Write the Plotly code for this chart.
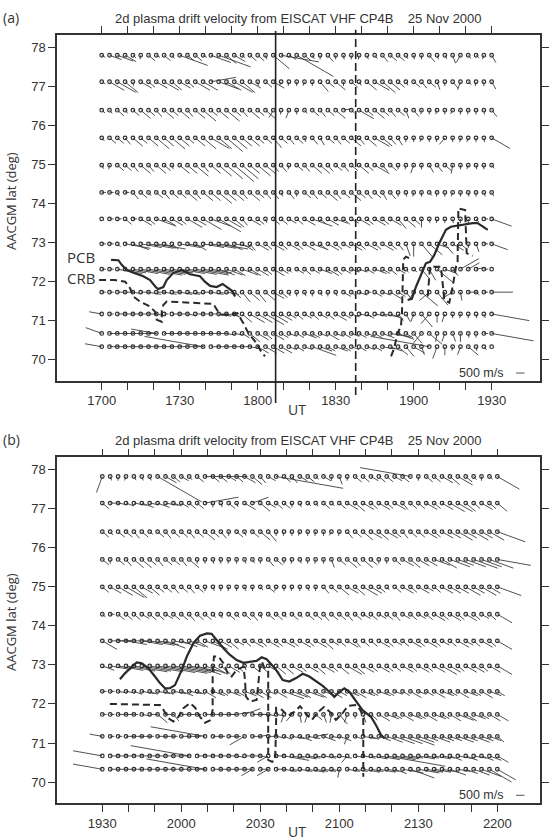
import math
import plotly.graph_objects as go

W, H = 552, 840

# ---------------- data ----------------
lats = [77.81, 77.13, 76.40, 75.69, 74.99, 74.29, 73.61, 72.97, 72.32, 71.73, 71.17, 70.67, 70.33]
times_a = list(range(1020, 1171, 3))   # minutes UT, 17:00 - 19:30
times_b = list(range(1170, 1321, 3))   # minutes UT, 19:30 - 22:00

# vector tokens "bearing/10 . speed/250 m/s" per dot, one string per latitude row
vec_a = [
 "12.1 11.3 11.4 12.3 13.1 19.1 13.2 12.1 13.2 14.1 11.7 13.2 13.2 12.1 11.5 11.8 13.3 12.3 13.1 13.2 13.2 16.1 13.5 10.9 12.2 12.10 13.2 15.1 18.1 14.2 18.1 17.1 18.1 19.1 16.1 14.1 14.2 13.2 13.2 15.1 17.1 18.1 14.2 16.1 15.1 16.2 21.2 14.1 13.1 20.1 15.2",
 "12.1 12.4 12.5 13.4 17.1 12.3 13.2 12.3 12.4 13.3 12.3 13.2 12.4 12.4 8.6 11.5 12.4 12.5 13.4 12.3 17.1 13.2 12.3 20.1 19.1 18.1 20.1 18.1 14.3 13.2 13.3 18.1 13.2 15.1 13.3 12.4 13.4 13.3 13.2 15.1 13.2 14.2 13.2 16.2 18.1 14.2 20.2 13.1 19.1 18.1 15.2",
 "13.1 14.1 13.2 14.1 13.2 13.3 13.2 14.2 13.3 13.2 13.3 14.2 13.3 13.4 13.2 13.3 13.4 13.2 14.2 13.3 13.2 13.3 21.2 19.1 20.2 18.1 14.1 13.2 14.2 13.2 13.3 8.2 13.1 12.4 13.2 13.3 13.2 14.2 13.2 16.2 14.2 19.1 18.1 20.1 18.1 21.1 18.1 19.1 18.1 17.1 14.2",
 "14.1 13.2 13.2 14.2 13.3 13.2 13.3 13.4 13.3 13.4 13.3 13.2 13.3 13.4 12.5 13.4 13.5 13.4 13.3 13.3 13.2 13.2 14.3 13.2 14.2 13.2 16.1 14.2 15.2 13.2 14.2 13.2 13.3 14.2 13.3 12.4 13.3 14.2 15.2 18.1 18.1 20.1 18.1 19.1 22.2 18.1 19.1 20.1 18.1 17.1 12.5",
 "15.1 19.1 13.2 13.2 14.2 13.3 14.2 13.3 13.2 16.1 13.3 13.3 13.4 14.2 13.3 13.4 13.5 13.6 13.5 13.3 13.4 13.3 14.2 14.2 19.1 13.2 14.2 13.3 13.3 14.2 13.2 14.2 13.2 13.3 13.2 12.4 14.2 13.2 18.1 19.1 20.2 18.1 15.2 14.2 13.2 19.2 18.1 20.1 17.1 18.1 14.1",
 "9.1 9.1 15.1 9.1 14.2 13.2 14.1 13.2 14.2 13.2 13.2 13.3 14.2 13.3 13.3 13.4 13.3 13.3 14.2 13.3 13.2 14.2 14.2 16.1 14.2 18.1 13.2 14.2 13.2 13.3 14.2 13.2 13.3 13.2 14.2 13.2 15.2 14.2 18.1 17.1 19.1 18.1 14.1 19.1 18.1 20.1 18.1 17.1 18.1 16.1 15.1",
 "9.0 9.1 9.1 13.2 9.1 12.3 13.2 11.5 12.3 12.3 13.2 12.4 12.3 12.5 11.5 12.6 12.4 13.3 14.2 12.3 13.2 16.1 13.2 13.2 12.2 13.2 12.3 11.5 13.2 12.3 11.3 13.2 12.2 12.3 13.2 12.3 13.2 12.3 14.3 13.3 13.2 18.2 17.1 19.1 18.1 17.1 18.1 18.1 14.1 9.1 11.5",
 "9.1 9.1 13.1 10.6 11.4 10.5 10.6 10.7 11.3 13.2 10.5 10.4 12.3 10.5 10.6 10.7 11.4 10.4 12.3 14.2 12.3 13.2 12.3 13.2 12.3 13.2 12.3 11.4 13.2 12.3 13.2 12.2 12.3 13.2 12.3 13.2 12.3 13.2 14.2 16.3 18.3 14.4 13.4 11.3 14.3 12.3 13.2 18.1 16.2 9.1 11.4",
 "9.1 9.1 10.6 10.5 10.6 10.7 10.8 10.7 10.6 10.5 10.6 10.7 10.8 10.6 10.5 11.4 11.4 12.3 11.4 12.3 12.3 13.2 12.3 12.2 14.1 12.2 13.2 12.2 11.3 12.3 13.2 12.2 11.2 11.2 12.2 11.3 12.2 13.2 12.2 14.1 13.1 14.3 15.3 13.5 11.3 14.2 6.5 6.3 8.2 9.1 9.0",
 "9.1 9.1 9.2 9.2 10.2 9.2 10.3 9.2 10.3 9.2 10.3 10.3 10.2 9.2 10.3 10.2 10.3 13.2 14.3 13.3 14.3 13.3 12.3 13.2 16.1 18.1 16.1 18.1 15.1 18.1 16.1 12.2 13.1 11.2 9.1 12.2 11.2 12.3 12.2 14.2 21.2 13.5 23.3 14.4 18.1 24.3 17.2 9.2 13.1 9.1 9.5",
 "28.3 9.1 9.2 9.2 9.2 9.2 9.2 10.2 9.1 9.2 9.2 10.2 9.2 9.2 9.2 10.3 10.3 12.2 13.3 12.4 12.4 12.5 12.4 12.3 12.2 13.2 12.2 13.2 12.2 13.2 12.3 12.2 11.2 10.3 12.2 10.3 10.4 11.3 14.2 15.2 20.2 14.4 22.3 18.2 20.2 18.1 19.1 18.1 17.1 16.1 10.9",
 "29.4 9.2 9.2 9.2 9.2 9.2 9.2 28.6 9.2 9.2 9.2 9.2 9.2 9.2 9.2 9.2 10.2 10.2 12.2 13.3 12.3 13.2 12.3 12.2 11.2 12.2 11.3 12.2 11.2 12.3 11.2 12.2 11.2 12.2 11.2 12.2 11.3 10.5 11.4 12.2 14.3 22.3 13.4 19.2 20.2 16.2 18.2 17.1 18.1 9.1 10.10",
 "28.4 9.2 9.2 9.2 9.2 9.2 9.2 9.2 9.2 9.2 9.2 9.2 9.2 28.14 9.2 9.2 9.2 9.2 9.2 10.2 12.3 12.3 12.3 12.3 11.2 12.2 11.2 11.6 11.3 12.2 11.3 12.2 11.2 12.2 11.2 12.2 10.3 11.3 13.3 14.3 12.3 16.2 28.14 20.3 18.2 19.1 20.2 13.3 17.1 14.1 9.0",
]
vec_b = [
 "20.4 16.1 18.1 20.1 15.1 16.1 16.1 12.12 12.3 13.2 12.2 14.1 13.2 9.10 13.2 13.2 12.2 13.2 12.3 13.3 14.2 12.2 10.16 13.2 14.2 12.2 13.2 13.1 12.2 18.1 16.2 18.1 13.2 13.2 12.2 13.2 13.2 12.2 13.2 28.12 18.1 13.2 13.2 12.3 13.3 12.4 13.2 14.1 18.1 13.1 12.6",
 "13.2 9.2 10.2 11.2 10.3 11.3 10.2 11.3 10.3 11.2 12.2 13.2 13.2 8.8 18.1 16.1 13.2 16.1 12.3 7.4 13.3 12.2 13.2 13.2 18.1 16.1 13.1 14.1 13.2 13.1 13.2 12.3 13.3 12.3 13.2 12.3 13.2 12.3 14.2 13.2 13.2 12.3 13.2 12.3 12.4 12.4 13.3 13.2 12.3 13.2 13.3",
 "13.2 14.1 13.2 13.2 14.2 13.2 13.1 13.2 14.2 13.2 13.2 14.2 13.2 13.3 13.2 14.2 18.1 13.2 16.1 13.2 13.3 14.3 18.1 19.1 18.1 20.1 18.1 19.1 18.1 21.1 19.1 14.2 13.2 13.3 12.3 13.3 12.3 13.2 14.2 13.2 13.2 12.3 13.2 12.3 12.3 12.4 12.3 12.4 12.3 12.4 11.7",
 "13.2 18.1 13.2 14.2 13.3 13.3 13.2 14.2 13.2 13.2 14.2 13.3 18.1 18.1 17.1 18.1 19.1 18.1 16.1 15.1 18.1 14.2 13.2 18.1 19.1 16.1 18.1 19.1 18.1 16.2 13.2 13.3 14.2 13.3 13.2 18.1 18.1 13.2 12.3 13.3 12.3 12.3 11.4 12.4 11.5 11.4 11.5 11.6 11.5 11.6 10.8",
 "13.2 12.3 12.4 12.5 13.4 12.3 13.3 13.2 13.2 14.2 13.2 14.2 13.2 18.1 16.1 18.1 19.1 18.1 16.1 18.1 14.1 13.2 20.1 18.1 19.1 18.1 16.1 18.1 14.2 13.2 13.3 12.3 13.3 12.4 12.3 13.2 14.1 13.2 12.3 13.2 12.3 12.2 13.2 12.3 12.3 12.3 12.4 12.3 12.4 12.3 11.6",
 "13.1 9.1 13.2 13.2 13.2 12.2 13.2 13.2 12.2 13.2 13.2 14.2 13.2 13.2 14.1 16.1 13.2 14.1 13.2 14.2 16.1 13.2 13.2 14.1 13.2 14.1 13.2 13.2 14.2 13.2 13.2 14.2 13.2 12.2 13.2 12.2 13.2 14.2 12.2 13.2 12.2 13.2 12.3 13.2 12.3 13.2 12.3 13.2 12.2 13.2 12.4",
 "12.4 9.5 9.4 10.5 9.4 10.5 10.6 10.5 11.5 10.4 11.4 11.4 12.3 11.5 12.4 12.3 13.3 12.2 13.2 12.3 13.2 12.3 13.2 12.3 13.2 12.3 13.2 12.3 13.3 12.2 13.2 12.3 14.2 13.2 13.2 12.3 13.2 12.2 13.2 12.3 13.2 12.3 13.2 12.2 13.2 12.3 12.2 13.2 12.3 13.2 12.4",
 "11.3 10.5 10.6 10.7 10.8 10.7 10.8 10.9 10.10 10.9 10.8 10.7 11.6 11.5 12.4 13.3 12.3 13.2 16.1 13.2 13.2 12.3 13.3 13.3 12.3 13.2 12.3 13.3 12.3 13.2 13.3 12.4 13.3 12.3 13.2 12.3 13.2 13.2 12.3 13.2 12.3 13.2 12.3 12.4 12.3 13.2 12.3 12.3 13.2 12.3 12.4",
 "9.1 9.1 10.2 10.2 11.2 10.3 11.2 10.3 11.2 10.3 11.3 10.3 11.2 12.3 11.3 12.2 11.3 12.2 11.3 12.3 12.3 11.2 12.3 11.5 11.4 12.3 11.4 12.3 11.3 12.3 12.2 11.3 12.3 11.3 12.2 11.3 12.2 11.2 12.2 12.3 11.2 12.2 12.3 11.3 12.2 12.3 11.3 12.2 12.3 11.3 12.2",
 "9.1 9.1 9.2 9.2 9.1 10.2 9.2 13.3 9.2 14.2 9.2 9.2 9.1 9.2 9.2 9.3 9.2 8.3 7.4 9.3 9.2 10.2 10.2 20.2 22.2 17.2 20.2 13.2 16.2 19.2 14.3 20.2 18.1 16.2 13.2 12.3 11.3 12.2 12.3 11.3 12.2 12.3 11.3 12.2 12.3 11.4 12.3 11.3 12.2 12.3 12.3",
 "28.3 9.1 9.1 9.2 9.2 9.2 9.1 9.2 9.2 9.1 9.2 9.2 9.1 28.13 9.2 9.1 9.2 9.1 24.4 9.2 8.2 9.2 10.2 11.2 10.3 11.3 10.3 8.3 11.3 10.2 11.3 20.2 11.2 10.3 11.2 11.3 11.4 11.5 11.5 11.6 11.4 11.3 11.4 11.3 11.3 11.4 11.3 11.4 11.3 11.3 13.2",
 "28.7 9.2 9.2 9.2 9.2 9.2 9.2 9.2 9.2 9.2 9.2 28.14 9.2 9.2 9.2 9.2 9.2 10.2 9.2 9.2 10.2 24.3 9.2 10.6 10.3 10.4 10.3 10.2 10.3 10.2 10.3 22.2 10.2 10.3 10.4 10.5 10.14 10.5 10.4 10.3 10.4 10.3 10.4 10.3 11.3 10.4 11.3 10.3 11.3 11.3 12.3",
 "28.7 9.2 9.2 9.2 9.2 9.2 9.2 9.2 9.2 9.2 9.2 9.2 9.2 28.14 9.2 9.2 9.2 9.2 9.2 24.3 9.2 24.3 9.2 10.3 10.2 10.3 10.4 10.3 10.3 10.2 19.2 10.3 10.3 10.4 10.3 10.4 10.3 11.3 10.5 11.6 10.5 10.4 10.4 10.4 11.4 10.3 11.3 11.4 11.5 12.6 12.5",
]

# boundaries (minutes UT, AACGM lat)
pcb_a_t = [1023.6, 1026.4, 1027.7, 1029.6, 1032.2, 1036.0, 1038.6, 1040.9, 1041.8, 1043.7, 1045.0, 1047.5,
           1050.8, 1054.0, 1057.8, 1059.7, 1061.7, 1064.2, 1066.5, 1068.1, 1070.0, 1071.3, None,
           1137.7, 1139.3, 1140.9, 1143.5, 1144.7, 1146.3, 1147.9, 1149.8, 1151.2, 1152.4, 1154.3,
           1158.8, 1162.7, 1164.6, 1166.5, 1168.5]
pcb_a_lat = [72.56, 72.55, 72.43, 72.30, 72.23, 72.14, 72.04, 71.85, 71.81, 71.86, 72.04, 72.22,
             72.30, 72.19, 72.14, 72.00, 71.89, 71.86, 71.94, 71.86, 71.77, 71.62, None,
             71.53, 71.56, 71.87, 72.26, 72.47, 72.51, 72.68, 72.98, 73.15, 73.33, 73.41,
             73.46, 73.50, 73.50, 73.41, 73.33]
crb_a_t = [1019.0, 1025.1, 1029.0, 1030.9, 1032.2, 1034.7, 1038.6, 1040.5, 1041.2, 1043.1, 1043.1, 1043.7,
           1045.0, 1062.9, 1064.8, 1066.2, 1070.6, 1072.2, 1074.5, 1076.4, 1079.6, 1080.9, 1082.8, None,
           1131.3, 1132.5, 1133.8, 1135.1, 1135.5, 1135.8, 1136.0, 1137.0, 1138.3, None,
           1145.4, 1146.3, 1150.5, 1151.8, 1153.7, 1155.0, 1156.3, 1156.9, 1157.2, 1159.8, 1160.4, 1162.7]
crb_a_lat = [72.04, 72.04, 72.00, 71.83, 71.62, 71.49, 71.36, 71.23, 71.02, 70.97, 71.27, 71.40,
             71.49, 71.43, 71.23, 71.15, 71.17, 71.19, 70.93, 70.68, 70.42, 70.25, 70.08, None,
             70.08, 70.29, 70.68, 70.85, 71.19, 71.87, 72.56, 72.64, 72.60, None,
             71.62, 72.38, 72.38, 71.53, 71.46, 71.87, 72.38, 72.51, 73.88, 73.84, 72.73, 72.66]
pcb_b_t = [1176.7, 1178.6, 1181.2, 1183.1, 1185.0, 1187.5, 1190.0, 1191.9, 1193.8, 1195.7, 1197.6, 1200.2,
           1202.1, 1204.6, 1207.1, 1209.7, 1211.5, 1213.4, 1216.0, 1218.5, 1221.0, 1223.6, 1226.1, 1228.6,
           1230.5, 1232.4, 1234.3, 1236.0, 1238.5, 1241.0, 1243.6, 1246.1, 1248.6, 1251.2, 1253.7, 1256.2,
           1258.1, 1260.0, 1261.9, 1263.8, 1266.3, 1268.8, 1272.0, 1273.9, 1275.8, 1277.1]
pcb_b_lat = [72.63, 72.78, 72.95, 73.06, 73.04, 72.91, 72.70, 72.53, 72.40, 72.40, 72.48, 72.87,
             73.21, 73.55, 73.74, 73.80, 73.79, 73.63, 73.42, 73.25, 73.12, 73.05, 73.08, 73.10,
             73.19, 73.14, 73.00, 72.87, 72.61, 72.57, 72.66, 72.77, 72.70, 72.57, 72.46, 72.31,
             72.18, 72.31, 72.40, 72.31, 72.06, 71.84, 71.67, 71.46, 71.21, 71.12]
crb_b_t = [1172.9, 1191.9, 1193.2, 1195.1, 1197.0, 1198.9, 1200.8, 1203.3, 1205.2, 1207.1, 1209.0, 1211.2,
           1211.9, 1211.9, 1212.4, 1214.1, 1216.0, 1217.9, 1219.1, 1221.0, 1223.6, 1224.2, 1224.5, 1226.1,
           1228.6, 1229.9, 1230.7, 1231.4, 1233.0, 1233.0, 1234.5, 1235.6, 1236.0, 1236.0, 1238.2, 1240.5,
           1242.8, 1245.1, 1247.4, 1249.6, 1251.9, 1254.2, 1256.5, 1258.7, 1261.0, 1263.3, 1266.4, 1267.9,
           1269.1, 1269.1]
crb_b_lat = [72.00, 71.97, 71.85, 71.63, 71.55, 71.67, 71.89, 72.02, 71.91, 71.67, 71.52, 71.59,
             71.85, 72.78, 73.21, 73.21, 73.04, 72.74, 72.70, 72.87, 72.95, 72.61, 72.19, 72.06,
             72.10, 72.95, 73.07, 72.94, 72.87, 70.57, 70.52, 70.57, 71.34, 71.90, 71.85, 71.69,
             71.79, 71.94, 71.74, 71.59, 71.79, 71.92, 71.79, 71.59, 71.74, 71.95, 71.97, 71.85,
             71.67, 70.14]
event_lines_a = [1086.9, 1117.7]   # solid, dashed
scale_speed = 500                  # m/s reference vector

# ---------------- styling / geometry ----------------
UNIT = 250.0            # m/s per token length unit
PX_PER_MS = 8.5 / 500.0 # vector pixel length per m/s
XDOM = [57 / W, 540 / W]
PANELS = [
    dict(times=times_a, vec=vec_a, xr=[1002.8, 1188.6], yr=[69.45, 78.33],
         ydom=[1 - 381 / H, 1 - 35 / H], ticks=list(range(1020, 1171, 10)),
         pcb=(pcb_a_t, pcb_a_lat), crb=(crb_a_t, crb_a_lat), xa="x", ya="y",
         label="(a)", label_y=17, ut_y=409, ytitle_y=201, title_y=18),
    dict(times=times_b, vec=vec_b, xr=[1152.8, 1336.2], yr=[69.46, 78.30],
         ydom=[1 - 803.3 / H, 1 - 457.3 / H], ticks=list(range(1170, 1321, 10)),
         pcb=(pcb_b_t, pcb_b_lat), crb=(crb_b_t, crb_b_lat), xa="x2", ya="y2",
         label="(b)", label_y=439, ut_y=831, ytitle_y=622, title_y=440),
]
INK = "#333333"
TICKFONT = dict(family="Liberation Sans, Arial, sans-serif", size=13, color=INK)
HUMFONT = "Open Sans, Noto Sans, sans-serif"

fig = go.Figure()
annotations = []
shapes = []


def hhmm(m):
    m = int(round(m)) % 1440
    return "%02d%02d" % (m // 60, m % 60)


for k, p in enumerate(PANELS):
    pxm = (XDOM[1] - XDOM[0]) * W / (p["xr"][1] - p["xr"][0])
    pxd = (p["ydom"][1] - p["ydom"][0]) * H / (p["yr"][1] - p["yr"][0])
    vx, vy, dx, dy = [], [], [], []
    for lat, row in zip(lats, p["vec"]):
        for t, tok in zip(p["times"], row.split()):
            b, l = tok.split(".")
            v = int(l) * UNIT
            ang = math.radians(int(b) * 10)
            ve, vn = v * math.sin(ang), v * math.cos(ang)
            vx += [t, t + ve * PX_PER_MS / pxm, None]
            vy += [lat, lat + vn * PX_PER_MS / pxd, None]
            dx.append(t)
            dy.append(lat)
    fig.add_trace(go.Scatter(x=vx, y=vy, mode="lines", xaxis=p["xa"], yaxis=p["ya"],
                             line=dict(color="#3c3c3c", width=0.9), hoverinfo="skip", showlegend=False))
    fig.add_trace(go.Scatter(x=dx, y=dy, mode="markers", xaxis=p["xa"], yaxis=p["ya"],
                             marker=dict(symbol="circle-open", size=3.6, color="#2f2f2f",
                                         line=dict(width=1.2, color="#2f2f2f")),
                             hoverinfo="skip", showlegend=False))
    fig.add_trace(go.Scatter(x=p["pcb"][0], y=p["pcb"][1], mode="lines", xaxis=p["xa"], yaxis=p["ya"],
                             line=dict(color="#2a2a2a", width=2.2), connectgaps=False,
                             hoverinfo="skip", showlegend=False))
    fig.add_trace(go.Scatter(x=p["crb"][0], y=p["crb"][1], mode="lines", xaxis=p["xa"], yaxis=p["ya"],
                             line=dict(color="#2a2a2a", width=2.0, dash="7px,4px"), connectgaps=False,
                             hoverinfo="skip", showlegend=False))
    # scale vector (500 m/s): starts 24 px left of the right frame, label ends 11 px before it
    sx0 = p["xr"][1] - 24.0 / pxm
    sy0 = p["yr"][0] + 8.0 / pxd
    fig.add_trace(go.Scatter(x=[sx0, sx0 + scale_speed * PX_PER_MS / pxm], y=[sy0, sy0],
                             mode="lines", xaxis=p["xa"], yaxis=p["ya"],
                             line=dict(color="#555555", width=1), hoverinfo="skip", showlegend=False))
    annotations.append(dict(x=sx0 - 11.0 / pxm, y=sy0, xref=p["xa"], yref=p["ya"],
                            text="%d m/s" % scale_speed,
                            showarrow=False, xanchor="right", yanchor="middle",
                            font=dict(family=TICKFONT["family"], size=12.5, color=INK)))

    axn = "" if k == 0 else "2"
    ticktext = [hhmm(v) if (v - p["ticks"][0]) % 30 == 0 else "" for v in p["ticks"]]
    fig.layout["xaxis" + axn] = dict(domain=XDOM, range=p["xr"], anchor=p["ya"], tickvals=p["ticks"],
                                     ticktext=ticktext, ticks="outside", ticklen=7, tickwidth=1.2,
                                     tickcolor=INK, showline=True, linecolor=INK, linewidth=1.5,
                                     mirror="ticks", showgrid=False, zeroline=False, tickfont=TICKFONT)
    fig.layout["yaxis" + axn] = dict(domain=p["ydom"], range=p["yr"], anchor=p["xa"],
                                     tickvals=list(range(70, 79)), ticks="outside", ticklen=7,
                                     tickwidth=1.2, tickcolor=INK, showline=True, linecolor=INK,
                                     linewidth=1.5, mirror="ticks", showgrid=False, zeroline=False,
                                     tickfont=TICKFONT)

    # text
    annotations.append(dict(x=298.5 / W, y=1 - p["title_y"] / H, xref="paper", yref="paper",
                            text="2d plasma drift velocity from EISCAT VHF CP4B\u00a0\u00a0\u00a0 25 Nov 2000",
                            showarrow=False, xanchor="center", yanchor="middle", font=TICKFONT))
    annotations.append(dict(x=1 / W, y=1 - p["label_y"] / H, xref="paper", yref="paper", text=p["label"],
                            showarrow=False, xanchor="left", yanchor="middle",
                            font=dict(family=HUMFONT, size=14, color=INK)))
    annotations.append(dict(x=297 / W, y=1 - p["ut_y"] / H, xref="paper", yref="paper", text="UT",
                            showarrow=False, xanchor="center", yanchor="middle",
                            font=dict(family=HUMFONT, size=14, color=INK)))
    annotations.append(dict(x=11 / W, y=1 - p["ytitle_y"] / H, xref="paper", yref="paper",
                            text="AACGM lat (deg)", textangle=-90, showarrow=False,
                            xanchor="center", yanchor="middle",
                            font=dict(family=HUMFONT, size=13, color=INK)))

# PCB / CRB labels in panel (a)
annotations.append(dict(x=1006.0, y=72.63, xref="x", yref="y", text="PCB", showarrow=False,
                        xanchor="left", yanchor="middle", font=dict(family=HUMFONT, size=15, color=INK)))
annotations.append(dict(x=1006.0, y=72.10, xref="x", yref="y", text="CRB", showarrow=False,
                        xanchor="left", yanchor="middle", font=dict(family=HUMFONT, size=15, color=INK)))

# event lines in panel (a), extending slightly beyond the frame
ya_dom = PANELS[0]["ydom"]
for i, t in enumerate(event_lines_a):
    top = ya_dom[1] + (4.0 if i == 0 else 5.3) / H
    bot = ya_dom[0] - (22.0 if i == 0 else 14.0) / H
    shapes.append(dict(type="line", xref="x", yref="paper", x0=t, x1=t, y0=bot, y1=top,
                       line=dict(color="#222222", width=1.6, dash="solid" if i == 0 else "8px,4px")))

fig.update_layout(width=W, height=H, margin=dict(l=0, r=0, t=0, b=0),
                  paper_bgcolor="white", plot_bgcolor="white",
                  annotations=annotations, shapes=shapes, showlegend=False)
fig.write_html("out.html")
